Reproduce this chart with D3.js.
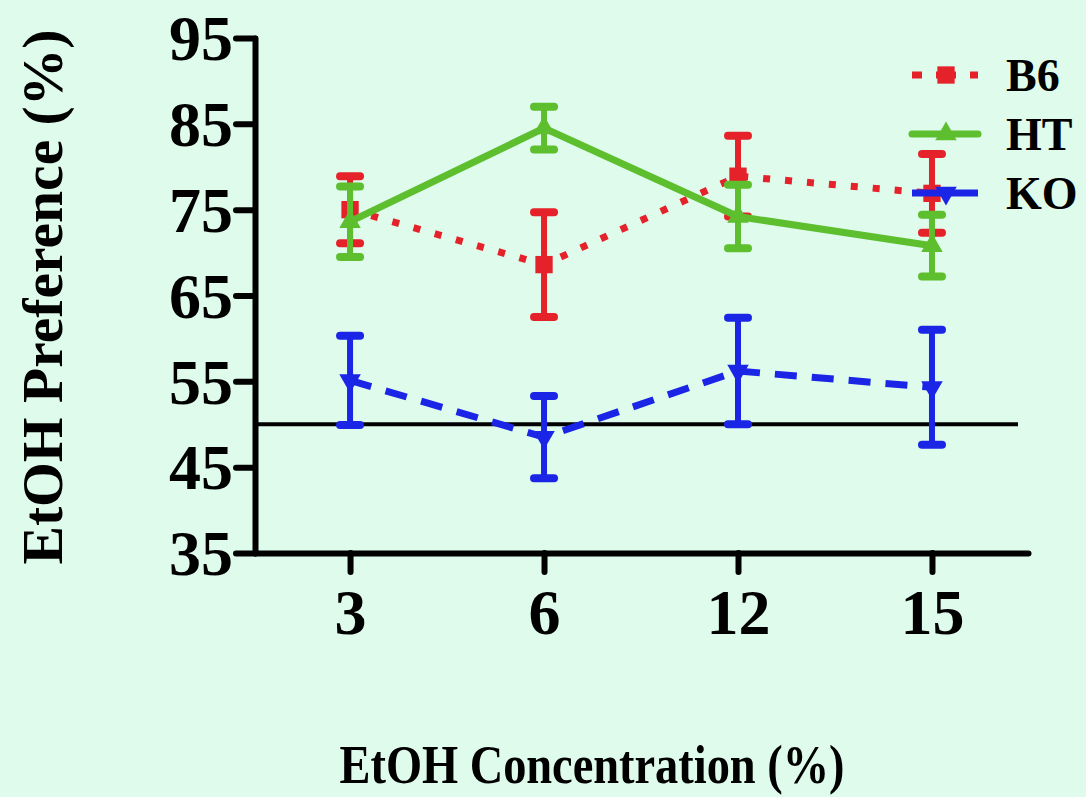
<!DOCTYPE html>
<meta charset="utf-8">
<style>
    body {
        margin: 0;
        background-color: #DFFBEC;
    }
    svg text {
        font-family: "Liberation Serif", "Times New Roman", serif;
        font-weight: bold;
        fill: #000;
    }
    .axis path,
    .axis line {
        fill: none;
        stroke: #000;
        stroke-width: 6px;
        stroke-linecap: round;
    }
    .axis text {
        font-size: 64px;
    }
    .legend text {
        font-size: 46px;
    }
</style>
<body>
<svg width="1086" height="797"></svg>
<script src="https://d3js.org/d3.v7.min.js"></script>
<script>
    // values
    var concentrations = ["3", "6", "12", "15"];
    var yTicks = [35, 45, 55, 65, 75, 85, 95];

    var b6Mean = [75.0, 68.6, 78.9, 76.9];
    var b6Sem  = [3.9, 6.1, 4.7, 4.6];
    var htMean = [73.6, 84.5, 74.2, 70.8];
    var htSem  = [4.1, 2.5, 3.7, 3.6];
    var koMean = [55.1, 48.5, 56.2, 54.3];
    var koSem  = [5.2, 4.8, 6.2, 6.7];
    var chanceLevel = 50;

    var series = [
        {name: "B6", mean: b6Mean, sem: b6Sem, color: "#E5222A", dash: "7,15", symbol: d3.symbolSquare, size: 300, rot: 0},
        {name: "HT", mean: htMean, sem: htSem, color: "#5DBE2E", dash: null, symbol: d3.symbolTriangle, size: 200, rot: 0},
        {name: "KO", mean: koMean, sem: koSem, color: "#1B25E6", dash: "22,15", symbol: d3.symbolTriangle, size: 200, rot: 180}
    ];

    var svg = d3.select("svg");

    var x = d3.scaleLinear().domain([-0.49, 3.495]).range([255, 1028]);
    var y = d3.scaleLinear().domain([35, 95]).range([553, 38]);

    // x axis
    svg.append("g")
        .attr("class", "axis")
        .attr("transform", "translate(0," + y(35) + ")")
        .call(d3.axisBottom(x)
            .tickValues(d3.range(concentrations.length))
            .tickFormat(function(i) { return concentrations[i]; })
            .tickSize(19)
            .tickSizeOuter(0)
            .tickPadding(16))
        .selectAll("text")
        .attr("dy", "0.72em");

    // y axis
    svg.append("g")
        .attr("class", "axis")
        .attr("transform", "translate(" + x.range()[0] + ",0)")
        .call(d3.axisLeft(y)
            .tickValues(yTicks)
            .tickSize(19)
            .tickSizeOuter(0)
            .tickPadding(3))
        .selectAll("text")
        .attr("dy", "0.34em");

    // 50% reference line
    svg.append("line")
        .attr("x1", x.range()[0])
        .attr("x2", 1018)
        .attr("y1", y(chanceLevel))
        .attr("y2", y(chanceLevel))
        .attr("stroke", "#000")
        .attr("stroke-width", 4);

    var line = d3.line()
        .x(function(d, i) { return x(i); })
        .y(function(d) { return y(d); });

    series.forEach(function(s) {
        var g = svg.append("g");

        g.append("path")
            .datum(s.mean)
            .attr("d", line)
            .attr("fill", "none")
            .attr("stroke", s.color)
            .attr("stroke-width", 7)
            .attr("stroke-dasharray", s.dash);

        var bars = g.selectAll(".err")
            .data(s.mean)
            .enter().append("g")
            .attr("stroke", s.color)
            .attr("stroke-linecap", "round");

        bars.append("line")
            .attr("x1", function(d, i) { return x(i); })
            .attr("x2", function(d, i) { return x(i); })
            .attr("y1", function(d, i) { return y(d + s.sem[i]); })
            .attr("y2", function(d, i) { return y(d - s.sem[i]); })
            .attr("stroke-width", 6);

        [1, -1].forEach(function(sign) {
            bars.append("line")
                .attr("x1", function(d, i) { return x(i) - 10; })
                .attr("x2", function(d, i) { return x(i) + 10; })
                .attr("y1", function(d, i) { return y(d + sign * s.sem[i]); })
                .attr("y2", function(d, i) { return y(d + sign * s.sem[i]); })
                .attr("stroke-width", 8);
        });

        g.selectAll(".pt")
            .data(s.mean)
            .enter().append("path")
            .attr("d", d3.symbol().type(s.symbol).size(s.size))
            .attr("transform", function(d, i) {
                return "translate(" + x(i) + "," + y(d) + ") rotate(" + s.rot + ")";
            })
            .attr("fill", s.color);
    });

    // legend
    var legend = svg.append("g").attr("class", "legend");
    series.forEach(function(s, k) {
        var ly = 75 + k * 59;
        legend.append("line")
            .attr("x1", 912).attr("x2", 978)
            .attr("y1", ly).attr("y2", ly)
            .attr("stroke", s.color)
            .attr("stroke-width", 7)
            .attr("stroke-linecap", s.dash ? "butt" : "round")
            .attr("stroke-dasharray", s.name === "B6" ? "10,14,20,14,10" : null);
        legend.append("path")
            .attr("d", d3.symbol().type(s.symbol).size(s.size))
            .attr("transform", "translate(946," + ly + ") rotate(" + s.rot + ")")
            .attr("fill", s.color);
        legend.append("text")
            .attr("x", 1006)
            .attr("y", ly + 16)
            .text(s.name);
    });

    // axis titles
    svg.append("text")
        .attr("x", 592)
        .attr("y", 783)
        .attr("text-anchor", "middle")
        .attr("textLength", 505)
        .attr("lengthAdjust", "spacingAndGlyphs")
        .style("font-size", "54px")
        .text("EtOH Concentration (%)");

    svg.append("text")
        .attr("transform", "translate(62,297) rotate(-90)")
        .attr("text-anchor", "middle")
        .attr("textLength", 535)
        .attr("lengthAdjust", "spacingAndGlyphs")
        .style("font-size", "56px")
        .text("EtOH Preference (%)");
</script>
</body>
